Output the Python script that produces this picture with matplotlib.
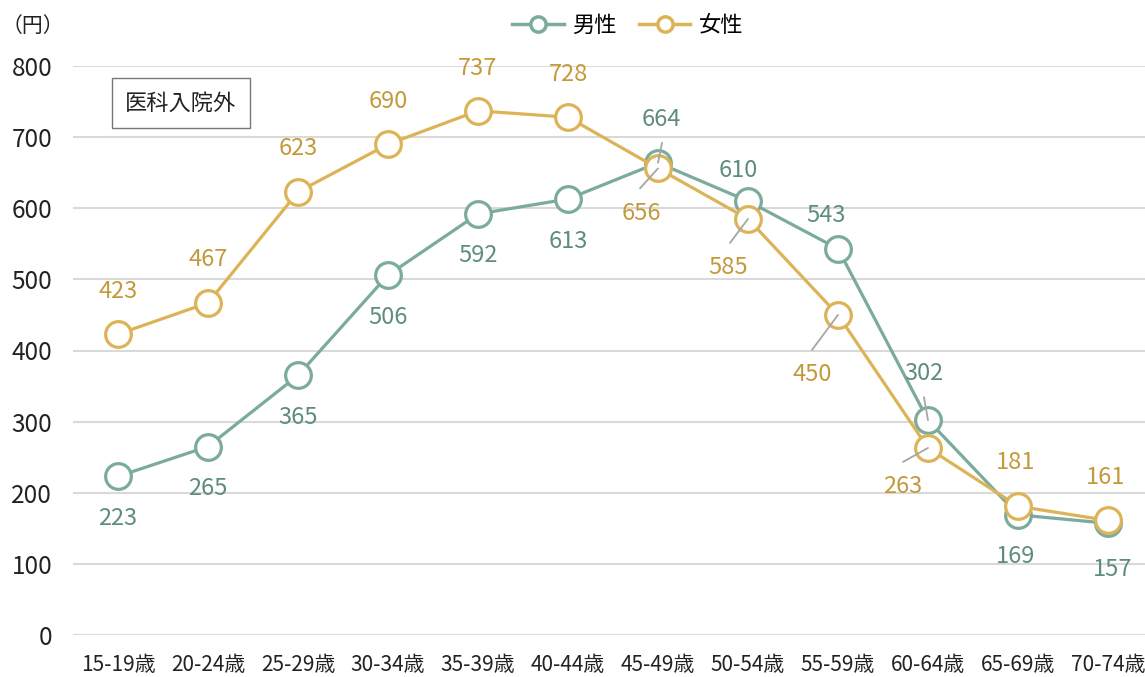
import matplotlib
matplotlib.use("Agg")
import matplotlib.pyplot as plt

plt.rcParams['font.family'] = ['Noto Sans CJK JP', 'DejaVu Sans']

categories = ["15-19歳", "20-24歳", "25-29歳", "30-34歳", "35-39歳", "40-44歳",
              "45-49歳", "50-54歳", "55-59歳", "60-64歳", "65-69歳", "70-74歳"]
male = [223, 265, 365, 506, 592, 613, 664, 610, 543, 302, 169, 157]
female = [423, 467, 623, 690, 737, 728, 656, 585, 450, 263, 181, 161]
yticks = [0, 100, 200, 300, 400, 500, 600, 700, 800]

# label offsets in pixels (dx, dy), and optional leader start offsets
male_off = [(0, -42), (0, -42), (0, -42), (0, -42), (0, -42), (0, -42),
            (3, 43), (-10, 31), (-12, 33), (-4, 47), (-2, -42), (5, -46)]
male_lead = {6: (4, 20), 9: (-4, 23)}
female_off = [(0, 43), (0, 43), (0, 43), (0, 43), (0, 42), (0, 43),
              (-17, -45), (-20, -49), (-26, -60), (-25, -39), (-2, 44), (-2, 43)]
female_lead = {6: (-18, -20), 7: (-18, -24), 8: (-26, -35), 9: (-25, -14)}

c_m_line = "#7aab9c"
c_m_text = "#5e8c7e"
c_f_line = "#ddb357"
c_f_text = "#c4993a"

W, H = 1145, 677
fig = plt.figure(figsize=(W / 100, H / 100), dpi=100)
left = 73 / W
bottom = (H - 635) / H
top = (H - 66) / H
right_px = 1153
ax = fig.add_axes([left, bottom, (W - 73) / W, top - bottom])
x = list(range(len(categories)))
ax.set_xlim(-0.5, -0.5 + 12 * (W - 73) / (right_px - 73))
ax.set_ylim(0, 800)

ax.set_yticks(yticks)
ax.yaxis.grid(True, color="#d9d9d9", linewidth=1.5)
ax.set_axisbelow(True)
for s in ax.spines.values():
    s.set_visible(False)
ax.tick_params(axis='y', length=0, pad=15, labelsize=17.5, labelcolor="#222222")
ax.tick_params(axis='x', length=0, pad=14, labelsize=15, labelcolor="#222222")
ax.set_xticks(x)
ax.set_xticklabels(categories)

ms = 18.5
ax.plot(x, male, color=c_m_line, lw=2.3, marker='o', ms=ms, mfc='white',
        mec=c_m_line, mew=2.3, clip_on=False, zorder=3, label="男性")
ax.plot(x, female, color=c_f_line, lw=2.3, marker='o', ms=ms, mfc='white',
        mec=c_f_line, mew=2.3, clip_on=False, zorder=4, label="女性")

def labels(vals, offs, leads, color):
    for i, v in enumerate(vals):
        dx, dy = offs[i]
        ax.annotate(str(v), xy=(i, v), xytext=(dx * 0.72, dy * 0.72),
                    textcoords='offset points', ha='center', va='center',
                    fontsize=17, color=color, zorder=6,
                    annotation_clip=False)
        if i in leads:
            lx, ly = leads[i]
            ax.annotate('', xy=(i, v), xytext=(lx * 0.72, ly * 0.72),
                        textcoords='offset points',
                        arrowprops=dict(arrowstyle='-', color='#a6a6a6', lw=1.3,
                                        shrinkA=0, shrinkB=0),
                        zorder=7, annotation_clip=False)

labels(male, male_off, male_lead, c_m_text)
labels(female, female_off, female_lead, c_f_text)

leg = fig.legend(loc='center', bbox_to_anchor=(628 / W, 1 - 25 / H), ncol=2,
                 frameon=False, fontsize=16, handlelength=2.3, columnspacing=1.0,
                 handletextpad=0.4, markerscale=0.6)
for h in leg.legend_handles:
    h.set_markersize(11)
    h.set_markeredgewidth(2.5)
    h.set_linewidth(2.5)

fig.text(2 / W, 1 - 26 / H, "（円）", fontsize=15, ha='left', va='center', color="#222222")
fig.text(181 / W, 1 - 103 / H, "医科入院外", fontsize=16, ha='center', va='center',
         color="#222222",
         bbox=dict(boxstyle='square,pad=0.6', fc='white', ec='#777777', lw=1.0))

fig.savefig("out.png", dpi=100)
